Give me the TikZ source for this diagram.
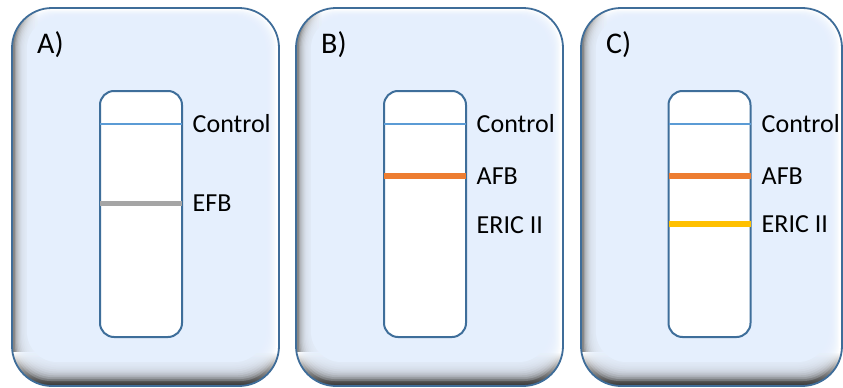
\documentclass[tikz,border=0pt]{standalone}
\usepackage{fontspec}
\setmainfont{Carlito}
\definecolor{faceblue}{HTML}{E5EFFD}
\definecolor{rimblue}{HTML}{3F6D99}
\definecolor{stripedge}{HTML}{3E6E9A}
\definecolor{ctrlblue}{HTML}{5B9BD5}
\definecolor{efbgray}{HTML}{A5A5A5}
\definecolor{afborange}{HTML}{ED7D31}
\definecolor{ericgold}{HTML}{FFC000}
\tikzset{
  panelrim/.style={draw=rimblue, line width=1.8pt, rounded corners=40pt},
  stripbox/.style={draw=stripedge, line width=2pt, fill=white, rounded corners=14pt,
    minimum width=82pt, minimum height=246pt, inner sep=0pt},
  band/.style={line width=5.5pt},
  ctrlband/.style={draw=ctrlblue, line width=1.8pt},
  lbl/.style={anchor=base west, inner sep=0pt, font=\fontsize{26}{30}\selectfont},
  panellbl/.style={anchor=base west, inner sep=0pt, font=\fontsize{30}{34}\selectfont},
}
% bevelled card: #1 left edge, #2 width (top 8, bottom 386)
\newcommand\bevelcard[2]{%
  \begin{scope}
    \clip[rounded corners=40pt] (#1,8) rectangle ++(#2,378);
    \fill[white] (#1,8) rectangle ++(#2,378);
    % shadow along the left side
    \shade[left color=black!50, right color=white] (#1,8) rectangle ({#1+26},386);
    % shadow along the bottom
    \shade[top color=white, bottom color=black!80] (#1,352) rectangle ({#1+#2},386);
    % soft-edged face
    \foreach \i in {0,...,9}{%
      \fill[faceblue, opacity=0.22, rounded corners=36pt]
        ({#1+3+\i*1.2},{10+\i*0.8}) rectangle ({#1+#2-3-\i*1.1},{381-\i*1.9});
    }
    \fill[faceblue, rounded corners=30pt] ({#1+15},18) rectangle ({#1+#2-14},362);
  \end{scope}
  \draw[panelrim] (#1,8) rectangle ++(#2,378);
}
\begin{document}
\begin{tikzpicture}[x=1pt, y=-1pt]
\useasboundingbox (0,0) rectangle (843,388);

% ---- panel A ----
\bevelcard{12}{267}
\node[panellbl] (labA) at (37,53.3) {A)};
\node[stripbox] (stripA) at (141,214) {};
\draw[ctrlband] ([xshift=1pt]stripA.west |- 0,124.3) -- ([xshift=-1pt]stripA.east |- 0,124.3);
\draw[band, efbgray] ([xshift=1pt]stripA.west |- 0,203.3) -- ([xshift=-1pt]stripA.east |- 0,203.3);
\node[lbl] (ctlA) at (192.5,132.8) {Control};
\node[lbl] (efbA) at (192.5,211.8) {EFB};

% ---- panel B ----
\bevelcard{296}{267}
\node[panellbl] (labB) at (321,53.3) {B)};
\node[stripbox] (stripB) at (425,214) {};
\draw[ctrlband] ([xshift=1pt]stripB.west |- 0,124.3) -- ([xshift=-1pt]stripB.east |- 0,124.3);
\draw[band, afborange] ([xshift=1pt]stripB.west |- 0,176) -- ([xshift=-1pt]stripB.east |- 0,176);
\node[lbl] (ctlB) at (476.5,132.8) {Control};
\node[lbl] (afbB) at (476.5,184.5) {AFB};
\node[lbl] (ericB) at (476.5,233.5) {ERIC II};

% ---- panel C ----
\bevelcard{581}{261}
\node[panellbl] (labC) at (606,53.3) {C)};
\node[stripbox] (stripC) at (709.5,214) {};
\draw[ctrlband] ([xshift=1pt]stripC.west |- 0,124.3) -- ([xshift=-1pt]stripC.east |- 0,124.3);
\draw[band, afborange] ([xshift=1pt]stripC.west |- 0,176) -- ([xshift=-1pt]stripC.east |- 0,176);
\draw[band, ericgold] ([xshift=1pt]stripC.west |- 0,224) -- ([xshift=-1pt]stripC.east |- 0,224);
\node[lbl] (ctlC) at (761.5,132.8) {Control};
\node[lbl] (afbC) at (761.5,184.5) {AFB};
\node[lbl] (ericC) at (761.5,232.5) {ERIC II};
\end{tikzpicture}
\end{document}
